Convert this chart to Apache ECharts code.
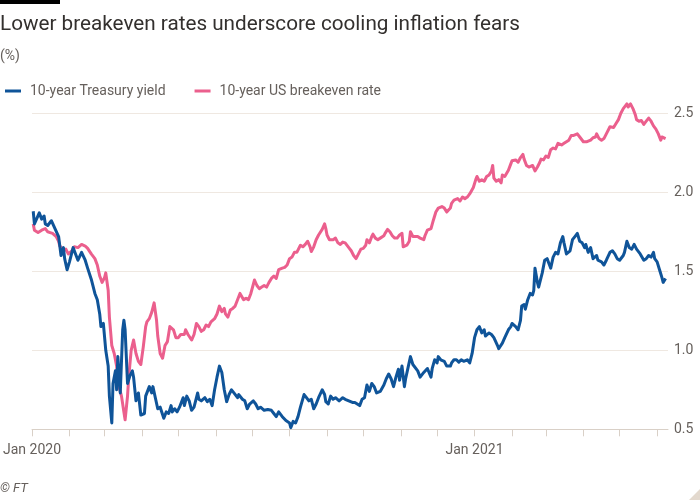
<!DOCTYPE html>
<html>
<head>
<meta charset="utf-8">
<script src="https://cdn.jsdelivr.net/npm/echarts@6/dist/echarts.min.js"></script>
<style>
html,body{margin:0;padding:0;background:#ffffff;}
#chart{width:700px;height:500px;}
</style>
</head>
<body>
<div id="chart"></div>
<script>
const titleText = 'Lower breakeven rates underscore cooling inflation fears';
const unitText = '(%)';
const sourceText = '© FT';
const seriesNames = ['10-year Treasury yield', '10-year US breakeven rate'];
const yTicks = [0.5, 1.0, 1.5, 2.0, 2.5];
const xRange = ['2020-01-01', '2021-06-10'];

const treasuryYield = [
['2020-01-02',1.88],['2020-01-03',1.80],['2020-01-07',1.87],['2020-01-09',1.83],['2020-01-11',1.85],['2020-01-12',1.80],
['2020-01-14',1.79],['2020-01-17',1.82],['2020-01-20',1.77],['2020-01-23',1.72],['2020-01-24',1.66],['2020-01-25',1.60],
['2020-01-27',1.65],['2020-01-28',1.58],['2020-01-30',1.51],['2020-02-01',1.56],['2020-02-04',1.65],['2020-02-06',1.61],
['2020-02-08',1.57],['2020-02-11',1.62],['2020-02-14',1.57],['2020-02-16',1.52],['2020-02-19',1.45],['2020-02-22',1.36],
['2020-02-24',1.32],['2020-02-26',1.23],['2020-02-27',1.15],['2020-02-29',1.17],['2020-03-02',1.00],['2020-03-04',0.90],
['2020-03-05',0.71],['2020-03-07',0.54],['2020-03-08',0.79],['2020-03-10',0.87],['2020-03-11',0.75],['2020-03-12',0.96],
['2020-03-14',0.73],['2020-03-16',1.13],['2020-03-17',1.19],['2020-03-18',1.13],['2020-03-20',0.79],['2020-03-22',0.84],
['2020-03-24',0.87],['2020-03-25',0.83],['2020-03-27',0.68],['2020-03-29',0.73],['2020-03-31',0.59],['2020-04-03',0.60],
['2020-04-04',0.71],['2020-04-07',0.77],['2020-04-09',0.73],['2020-04-10',0.77],['2020-04-12',0.70],['2020-04-14',0.63],
['2020-04-16',0.64],['2020-04-19',0.57],['2020-04-21',0.61],['2020-04-23',0.60],['2020-04-25',0.65],['2020-04-26',0.61],
['2020-04-28',0.63],['2020-04-30',0.61],['2020-05-02',0.64],['2020-05-05',0.70],['2020-05-06',0.65],['2020-05-08',0.71],
['2020-05-10',0.68],['2020-05-12',0.62],['2020-05-14',0.64],['2020-05-17',0.73],['2020-05-18',0.69],['2020-05-20',0.68],
['2020-05-23',0.70],['2020-05-25',0.675],['2020-05-27',0.69],['2020-05-29',0.65],['2020-05-31',0.75],['2020-06-02',0.83],
['2020-06-04',0.90],['2020-06-06',0.86],['2020-06-08',0.75],['2020-06-10',0.675],['2020-06-12',0.72],['2020-06-14',0.75],
['2020-06-16',0.73],['2020-06-19',0.70],['2020-06-20',0.72],['2020-06-23',0.69],['2020-06-25',0.68],['2020-06-27',0.63],
['2020-06-29',0.66],['2020-07-02',0.68],['2020-07-04',0.66],['2020-07-06',0.63],['2020-07-08',0.64],['2020-07-11',0.62],
['2020-07-14',0.625],['2020-07-17',0.62],['2020-07-19',0.60],['2020-07-21',0.58],['2020-07-23',0.61],['2020-07-26',0.58],
['2020-07-29',0.555],['2020-08-01',0.54],['2020-08-02',0.51],['2020-08-04',0.55],['2020-08-06',0.54],['2020-08-08',0.58],
['2020-08-10',0.64],['2020-08-13',0.72],['2020-08-15',0.70],['2020-08-17',0.68],['2020-08-19',0.69],['2020-08-21',0.63],
['2020-08-23',0.66],['2020-08-25',0.70],['2020-08-28',0.75],['2020-08-30',0.72],['2020-08-31',0.675],['2020-09-02',0.66],
['2020-09-04',0.71],['2020-09-06',0.69],['2020-09-08',0.70],['2020-09-11',0.68],['2020-09-14',0.70],['2020-09-16',0.69],
['2020-09-19',0.68],['2020-09-22',0.67],['2020-09-24',0.67],['2020-09-25',0.66],['2020-09-28',0.65],['2020-09-30',0.69],
['2020-10-02',0.70],['2020-10-04',0.78],['2020-10-06',0.74],['2020-10-08',0.79],['2020-10-10',0.77],['2020-10-12',0.73],
['2020-10-15',0.74],['2020-10-18',0.78],['2020-10-20',0.82],['2020-10-22',0.85],['2020-10-24',0.82],['2020-10-26',0.77],
['2020-10-28',0.83],['2020-10-30',0.88],['2020-10-31',0.81],['2020-11-02',0.90],['2020-11-04',0.77],['2020-11-05',0.82],
['2020-11-07',0.89],['2020-11-09',0.96],['2020-11-11',0.91],['2020-11-12',0.92],['2020-11-15',0.87],['2020-11-17',0.83],
['2020-11-20',0.86],['2020-11-21',0.87],['2020-11-23',0.885],['2020-11-26',0.83],['2020-11-27',0.885],['2020-11-29',0.94],
['2020-12-01',0.92],['2020-12-02',0.96],['2020-12-04',0.94],['2020-12-07',0.93],['2020-12-09',0.90],['2020-12-12',0.90],
['2020-12-13',0.92],['2020-12-15',0.94],['2020-12-17',0.94],['2020-12-19',0.925],['2020-12-21',0.94],['2020-12-23',0.93],
['2020-12-26',0.94],['2020-12-28',0.92],['2020-12-30',0.98],['2021-01-01',1.08],['2021-01-03',1.13],['2021-01-05',1.15],
['2021-01-07',1.11],['2021-01-09',1.13],['2021-01-10',1.09],['2021-01-13',1.11],['2021-01-15',1.10],['2021-01-17',1.08],
['2021-01-20',1.03],['2021-01-21',1.01],['2021-01-24',1.045],['2021-01-26',1.08],['2021-01-29',1.13],['2021-01-31',1.15],
['2021-02-01',1.17],['2021-02-04',1.15],['2021-02-06',1.13],['2021-02-08',1.19],['2021-02-09',1.28],['2021-02-11',1.29],
['2021-02-12',1.26],['2021-02-14',1.32],['2021-02-16',1.36],['2021-02-18',1.35],['2021-02-19',1.38],['2021-02-20',1.52],
['2021-02-22',1.43],['2021-02-23',1.40],['2021-02-24',1.40],['2021-02-26',1.49],['2021-02-28',1.57],['2021-03-02',1.58],
['2021-03-04',1.54],['2021-03-05',1.52],['2021-03-07',1.59],['2021-03-09',1.62],['2021-03-11',1.61],['2021-03-13',1.68],
['2021-03-15',1.72],['2021-03-16',1.68],['2021-03-18',1.61],['2021-03-21',1.63],['2021-03-23',1.70],['2021-03-25',1.72],
['2021-03-27',1.74],['2021-03-29',1.69],['2021-03-31',1.68],['2021-04-02',1.65],['2021-04-03',1.67],['2021-04-05',1.62],
['2021-04-07',1.65],['2021-04-09',1.58],['2021-04-12',1.60],['2021-04-13',1.57],['2021-04-16',1.56],['2021-04-18',1.54],
['2021-04-20',1.57],['2021-04-23',1.62],['2021-04-25',1.63],['2021-04-27',1.61],['2021-04-29',1.58],['2021-05-01',1.57],
['2021-05-04',1.60],['2021-05-05',1.62],['2021-05-07',1.69],['2021-05-09',1.65],['2021-05-11',1.64],['2021-05-13',1.67],
['2021-05-15',1.64],['2021-05-16',1.65],['2021-05-18',1.61],['2021-05-21',1.57],['2021-05-23',1.58],['2021-05-25',1.60],
['2021-05-27',1.59],['2021-05-29',1.62],['2021-05-30',1.58],['2021-06-01',1.56],['2021-06-02',1.55],['2021-06-03',1.51],
['2021-06-05',1.46],['2021-06-06',1.43],['2021-06-08',1.455]
];

const breakevenRate = [
['2020-01-02',1.80],['2020-01-03',1.76],['2020-01-06',1.745],['2020-01-09',1.76],['2020-01-12',1.77],['2020-01-14',1.75],
['2020-01-16',1.745],['2020-01-18',1.74],['2020-01-21',1.72],['2020-01-23',1.69],['2020-01-24',1.66],['2020-01-27',1.63],
['2020-01-29',1.64],['2020-01-31',1.61],['2020-02-03',1.63],['2020-02-05',1.655],['2020-02-08',1.65],['2020-02-11',1.67],
['2020-02-14',1.66],['2020-02-16',1.645],['2020-02-19',1.61],['2020-02-22',1.58],['2020-02-24',1.54],['2020-02-26',1.47],
['2020-02-28',1.43],['2020-03-01',1.46],['2020-03-02',1.49],['2020-03-04',1.38],['2020-03-05',1.21],['2020-03-07',1.03],
['2020-03-08',1.04],['2020-03-09',0.98],['2020-03-11',0.90],['2020-03-12',0.81],['2020-03-13',0.77],['2020-03-15',0.71],
['2020-03-17',0.61],['2020-03-18',0.56],['2020-03-20',0.71],['2020-03-21',0.83],['2020-03-23',1.00],['2020-03-25',1.065],
['2020-03-27',0.98],['2020-03-29',0.93],['2020-03-31',0.91],['2020-04-02',1.02],['2020-04-04',1.15],['2020-04-05',1.18],
['2020-04-07',1.20],['2020-04-09',1.24],['2020-04-11',1.30],['2020-04-13',1.19],['2020-04-14',1.09],['2020-04-16',0.98],
['2020-04-18',0.95],['2020-04-20',1.03],['2020-04-22',1.055],['2020-04-24',1.15],['2020-04-25',1.16],['2020-04-27',1.13],
['2020-04-29',1.08],['2020-05-01',1.08],['2020-05-03',1.10],['2020-05-06',1.10],['2020-05-07',1.13],['2020-05-09',1.10],
['2020-05-12',1.065],['2020-05-14',1.10],['2020-05-16',1.17],['2020-05-18',1.15],['2020-05-20',1.12],['2020-05-22',1.13],
['2020-05-24',1.16],['2020-05-26',1.15],['2020-05-28',1.18],['2020-05-29',1.175],['2020-05-31',1.20],['2020-06-02',1.23],
['2020-06-04',1.28],['2020-06-06',1.245],['2020-06-08',1.265],['2020-06-09',1.23],['2020-06-11',1.21],['2020-06-13',1.255],
['2020-06-15',1.265],['2020-06-17',1.28],['2020-06-19',1.32],['2020-06-21',1.36],['2020-06-24',1.32],['2020-06-26',1.33],
['2020-06-28',1.32],['2020-06-30',1.36],['2020-07-03',1.445],['2020-07-05',1.41],['2020-07-07',1.39],['2020-07-09',1.40],
['2020-07-11',1.41],['2020-07-13',1.40],['2020-07-15',1.43],['2020-07-17',1.455],['2020-07-19',1.47],['2020-07-21',1.455],
['2020-07-23',1.51],['2020-07-26',1.52],['2020-07-28',1.525],['2020-07-30',1.54],['2020-08-01',1.58],['2020-08-03',1.59],
['2020-08-05',1.62],['2020-08-07',1.62],['2020-08-08',1.625],['2020-08-10',1.665],['2020-08-12',1.655],['2020-08-14',1.67],
['2020-08-16',1.69],['2020-08-18',1.655],['2020-08-19',1.625],['2020-08-21',1.655],['2020-08-23',1.70],['2020-08-25',1.73],
['2020-08-28',1.765],['2020-08-30',1.80],['2020-08-31',1.77],['2020-09-01',1.73],['2020-09-03',1.70],['2020-09-04',1.71],
['2020-09-06',1.70],['2020-09-08',1.71],['2020-09-10',1.68],['2020-09-12',1.67],['2020-09-14',1.685],['2020-09-16',1.68],
['2020-09-19',1.65],['2020-09-21',1.63],['2020-09-23',1.60],['2020-09-25',1.58],['2020-09-27',1.61],['2020-09-29',1.64],
['2020-10-01',1.645],['2020-10-03',1.665],['2020-10-04',1.70],['2020-10-06',1.68],['2020-10-08',1.72],['2020-10-09',1.735],
['2020-10-11',1.71],['2020-10-13',1.70],['2020-10-15',1.71],['2020-10-18',1.725],['2020-10-19',1.74],['2020-10-21',1.765],
['2020-10-23',1.75],['2020-10-25',1.725],['2020-10-27',1.71],['2020-10-29',1.71],['2020-10-31',1.73],['2020-11-02',1.74],
['2020-11-03',1.655],['2020-11-06',1.665],['2020-11-08',1.69],['2020-11-09',1.75],['2020-11-11',1.72],['2020-11-12',1.73],
['2020-11-15',1.72],['2020-11-17',1.71],['2020-11-20',1.70],['2020-11-21',1.725],['2020-11-23',1.76],['2020-11-26',1.77],
['2020-11-28',1.825],['2020-11-30',1.875],['2020-12-02',1.90],['2020-12-03',1.89],['2020-12-05',1.91],['2020-12-07',1.90],
['2020-12-09',1.875],['2020-12-12',1.90],['2020-12-13',1.93],['2020-12-15',1.95],['2020-12-18',1.96],['2020-12-20',1.945],
['2020-12-22',1.97],['2020-12-24',1.96],['2020-12-26',1.97],['2020-12-28',1.99],['2020-12-31',2.03],['2021-01-02',2.08],
['2021-01-03',2.10],['2021-01-05',2.07],['2021-01-07',2.08],['2021-01-09',2.07],['2021-01-11',2.10],['2021-01-13',2.11],
['2021-01-15',2.135],['2021-01-16',2.17],['2021-01-17',2.09],['2021-01-19',2.07],['2021-01-21',2.08],['2021-01-23',2.06],
['2021-01-24',2.11],['2021-01-26',2.10],['2021-01-29',2.14],['2021-01-31',2.18],['2021-02-01',2.20],['2021-02-04',2.205],
['2021-02-06',2.19],['2021-02-08',2.22],['2021-02-10',2.24],['2021-02-11',2.21],['2021-02-13',2.17],['2021-02-15',2.16],
['2021-02-18',2.17],['2021-02-20',2.135],['2021-02-22',2.16],['2021-02-24',2.19],['2021-02-25',2.21],['2021-02-27',2.205],
['2021-03-01',2.23],['2021-03-03',2.22],['2021-03-05',2.27],['2021-03-07',2.28],['2021-03-09',2.275],['2021-03-11',2.31],
['2021-03-14',2.30],['2021-03-16',2.31],['2021-03-17',2.30],['2021-03-20',2.33],['2021-03-22',2.36],['2021-03-24',2.36],
['2021-03-25',2.35],['2021-03-27',2.37],['2021-03-29',2.35],['2021-04-01',2.32],['2021-04-02',2.33],['2021-04-04',2.32],
['2021-04-07',2.33],['2021-04-09',2.345],['2021-04-11',2.35],['2021-04-12',2.37],['2021-04-14',2.34],['2021-04-16',2.33],
['2021-04-18',2.34],['2021-04-20',2.37],['2021-04-23',2.415],['2021-04-24',2.42],['2021-04-26',2.41],['2021-04-28',2.435],
['2021-04-30',2.46],['2021-05-02',2.50],['2021-05-04',2.53],['2021-05-05',2.54],['2021-05-07',2.56],['2021-05-08',2.54],
['2021-05-10',2.56],['2021-05-11',2.55],['2021-05-12',2.53],['2021-05-14',2.49],['2021-05-15',2.46],['2021-05-17',2.45],
['2021-05-19',2.455],['2021-05-21',2.43],['2021-05-23',2.45],['2021-05-25',2.47],['2021-05-27',2.45],['2021-05-29',2.42],
['2021-05-31',2.40],['2021-06-02',2.37],['2021-06-04',2.33],['2021-06-05',2.35],['2021-06-08',2.34]
];

const colors = ['#0f5499', '#eb5f8d'];
const textColor = '#66605c';
const FONT = 'Roboto, "Noto Sans", sans-serif';

const chart = echarts.init(document.getElementById('chart'), null, {renderer: 'canvas'});
const DAY = 24 * 3600 * 1000;

chart.setOption({
  backgroundColor: '#ffffff',
  animation: false,
  textStyle: {fontFamily: FONT},
  graphic: [
    {type: 'rect', left: 0, top: 0, shape: {width: 60, height: 4}, style: {fill: '#000000'}},
    {type: 'text', left: 0, top: 14, style: {text: titleText, font: '20.7px ' + FONT, fill: '#33302e'}},
    {type: 'text', left: 0, top: 49, style: {text: unitText, font: '14px ' + FONT, fill: textColor}},
    {type: 'text', left: 0, top: 482, style: {text: sourceText, font: 'italic 13px ' + FONT, fill: textColor}},
    {type: 'polygon', shape: {points: [[700, 489], [700, 500], [689, 500]]}, style: {fill: '#e3d9ce'}}
  ],
  legend: {
    left: 0, top: 79,
    itemWidth: 16, itemHeight: 3, itemGap: 29,
    icon: 'rect',
    textStyle: {color: textColor, fontSize: 14, fontFamily: FONT, padding: [0, 0, 0, 4]},
    data: seriesNames
  },
  grid: {left: 30.5, right: 32, top: 113.3, bottom: 70.7, containLabel: false},
  xAxis: {
    type: 'time',
    min: xRange[0], max: xRange[1],
    minInterval: 28 * DAY, maxInterval: 31 * DAY,
    splitLine: {show: false},
    axisLine: {show: true, lineStyle: {color: '#d9d0c7', width: 1}},
    axisTick: {show: true, length: 7, lineStyle: {color: '#d9d0c7'}},
    axisLabel: {
      color: textColor, fontSize: 14, fontFamily: FONT, margin: 14,
      showMinLabel: true, hideOverlap: false,
      formatter: function (v) {
        const d = new Date(v);
        return d.getMonth() === 0 && d.getDate() === 1 ? 'Jan ' + d.getFullYear() : '';
      }
    }
  },
  yAxis: {
    type: 'value', position: 'right',
    min: yTicks[0], max: yTicks[yTicks.length - 1], interval: 0.5,
    axisLine: {show: false}, axisTick: {show: false},
    splitLine: {show: true, lineStyle: {color: '#efe8e1', width: 1}},
    axisLabel: {color: textColor, fontSize: 14, fontFamily: FONT, margin: 6,
      formatter: function (v) { return v.toFixed(1); }}
  },
  series: [
    {name: seriesNames[0], type: 'line', data: treasuryYield, showSymbol: false, clip: false,
      lineStyle: {color: colors[0], width: 3, join: 'round'}, itemStyle: {color: colors[0]}, z: 3},
    {name: seriesNames[1], type: 'line', data: breakevenRate, showSymbol: false, clip: false,
      lineStyle: {color: colors[1], width: 3, join: 'round'}, itemStyle: {color: colors[1]}, z: 2}
  ]
});
</script>
</body>
</html>
